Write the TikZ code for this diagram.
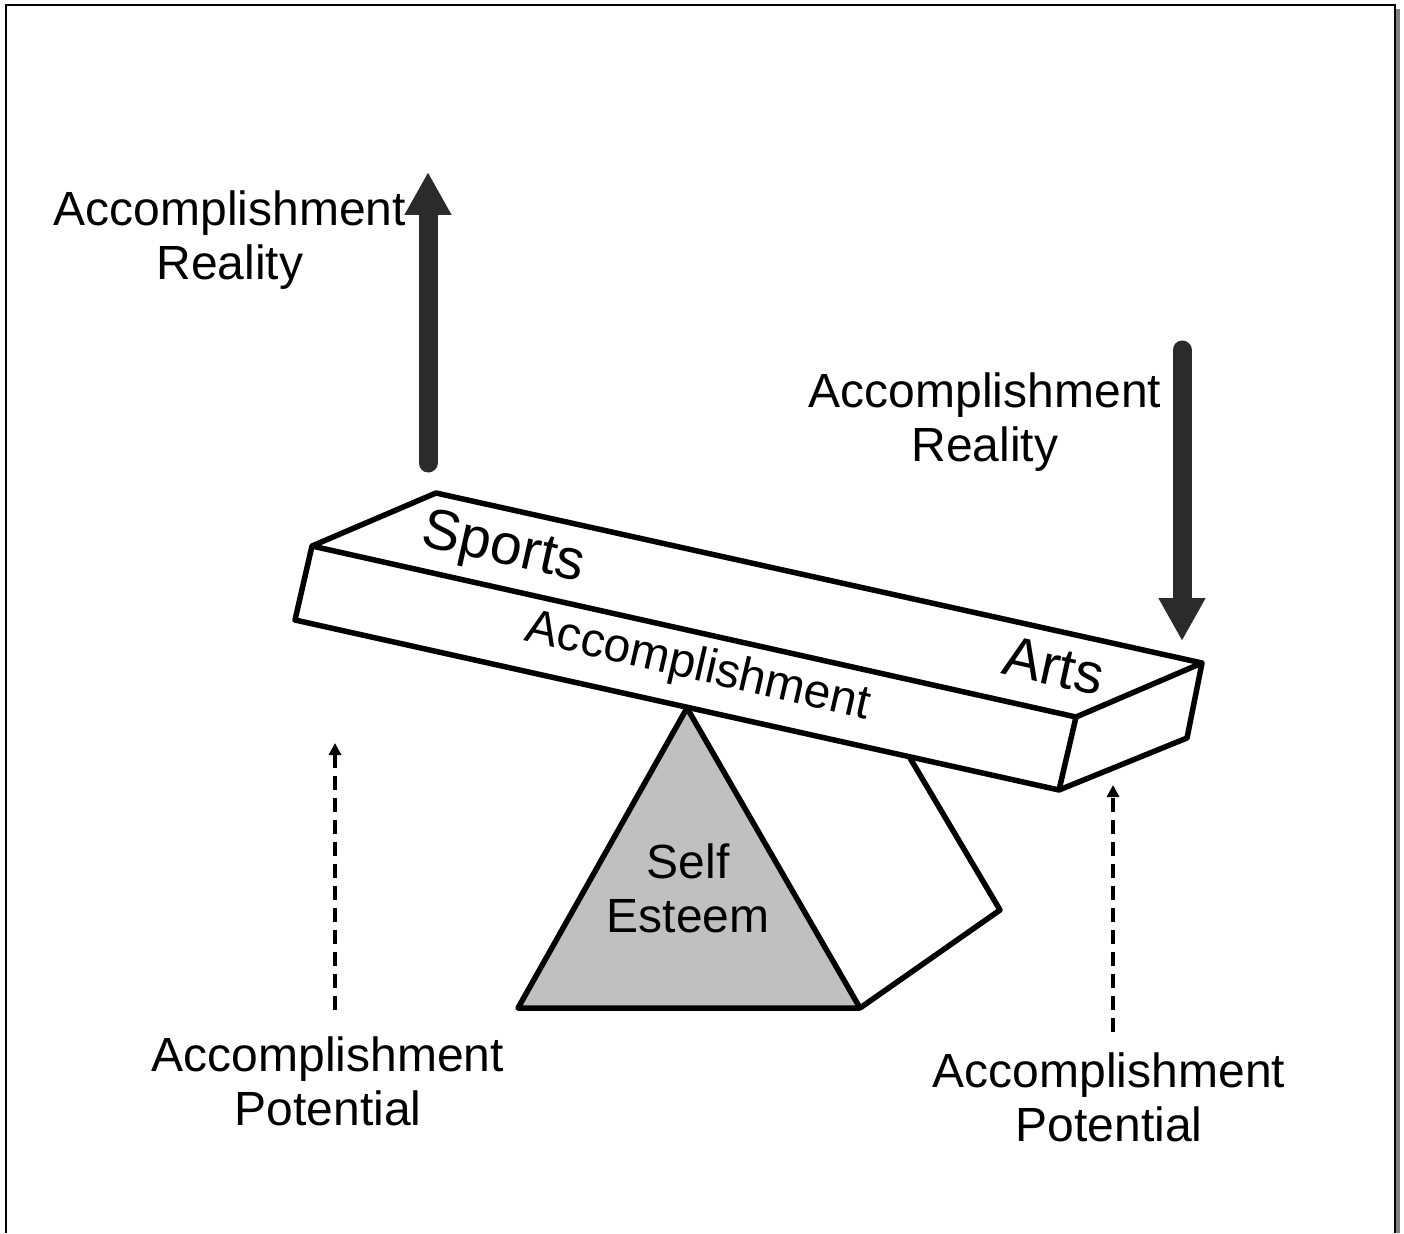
\documentclass[tikz,border=0pt]{standalone}
\usepackage{fontspec}
\setmainfont{Liberation Sans}
\usetikzlibrary{arrows.meta}
\usetikzlibrary{positioning}
\definecolor{arrowgray}{HTML}{2B2B2B}
\definecolor{basegray}{HTML}{C0C0C0}
\definecolor{shadowgray}{HTML}{808080}
\tikzset{edge/.style = {line width = 5.5pt, line join = round}}
\tikzset{txt/.style = {font = \fontsize{48}{54}\selectfont, align = center, inner sep = 0}}
\tikzset{beamtxt/.style = {font = \fontsize{57}{60}\selectfont, inner sep = 0, rotate = -12.6}}
\tikzset{bigarrow/.style = {draw = arrowgray, line width = 19pt, line cap = round,
    -{Triangle[width = 44pt, length = 43pt, fill = arrowgray]}}}
\tikzset{potarrow/.style = {line width = 3.5pt, dash pattern = on 14pt off 8pt,
    -{Triangle[width = 12pt, length = 12pt]}}}

\begin{document}
\begin{tikzpicture}[x = 1pt, y = -1pt]

      \useasboundingbox (0, 0) rectangle (1404, 1233);

      % frame
      \fill [shadowgray] (1396, 9) rectangle (1400, 1233);
      \draw [line width = 2.5pt] (6, 1233) -- (6, 5) -- (1395, 5) -- (1395, 1233);

      % fulcrum
      \coordinate (apex) at (687, 708);
      \coordinate (baseleft) at (518, 1008);
      \coordinate (baseright) at (860, 1008);
      \coordinate (sidetop) at (910, 758);
      \coordinate (sideright) at (1000, 910);

      \draw [edge, fill = basegray] (apex) -- (baseleft) -- (baseright) -- cycle;
      \draw [edge] (sidetop) -- (sideright) -- (baseright);
      \node [txt] (esteem) at (688, 888) {Self\\Esteem};

      % beam
      \coordinate (backleft) at (436, 493);
      \coordinate (frontleft) at (312, 546);
      \coordinate (frontright) at (1076, 717);
      \coordinate (backright) at (1202, 663);
      \coordinate (lowleft) at (295, 620);
      \coordinate (lowright) at (1059, 790);
      \coordinate (lowback) at (1187, 738);

      \draw [edge, fill = white] (backleft) -- (backright) -- (lowback) -- (lowright)
        -- (lowleft) -- (frontleft) -- cycle;
      \draw [edge] (frontleft) -- (frontright) -- (backright);
      \draw [edge] (frontright) -- (lowright);

      \node [beamtxt] (sports) at (503, 550) {Sports};
      \node [beamtxt] (arts) at (1054, 666) {Arts};
      \node [beamtxt, font = \fontsize{48}{50}\selectfont, rotate = -0.3] (accomp) at (698, 668) {Accomplishment};

      % reality arrows
      \coordinate (up0) at (428, 463);
      \coordinate (up1) at (428, 172);
      \coordinate (down0) at (1182, 350);
      \coordinate (down1) at (1182, 641);

      \draw [bigarrow] (up0) -- (up1);
      \draw [bigarrow] (down0) -- (down1);

      \node [txt] (realityleft) at (230, 240) {Accomplishment\\Reality};
      \node [txt] (realityright) at (985, 422) {Accomplishment\\Reality};

      % potential arrows
      \coordinate (pot0) at (335, 1010);
      \coordinate (pot1) at (335, 743);
      \coordinate (pot2) at (1113, 1032);
      \coordinate (pot3) at (1113, 785);

      \draw [potarrow] (pot0) -- (pot1);
      \draw [potarrow] (pot2) -- (pot3);

      \node [txt] (potentialleft) at (328, 1081) {Accomplishment\\Potential};
      \node [txt] (potentialright) at (1109, 1097) {Accomplishment\\Potential};
    \end{tikzpicture}
\end{document}
